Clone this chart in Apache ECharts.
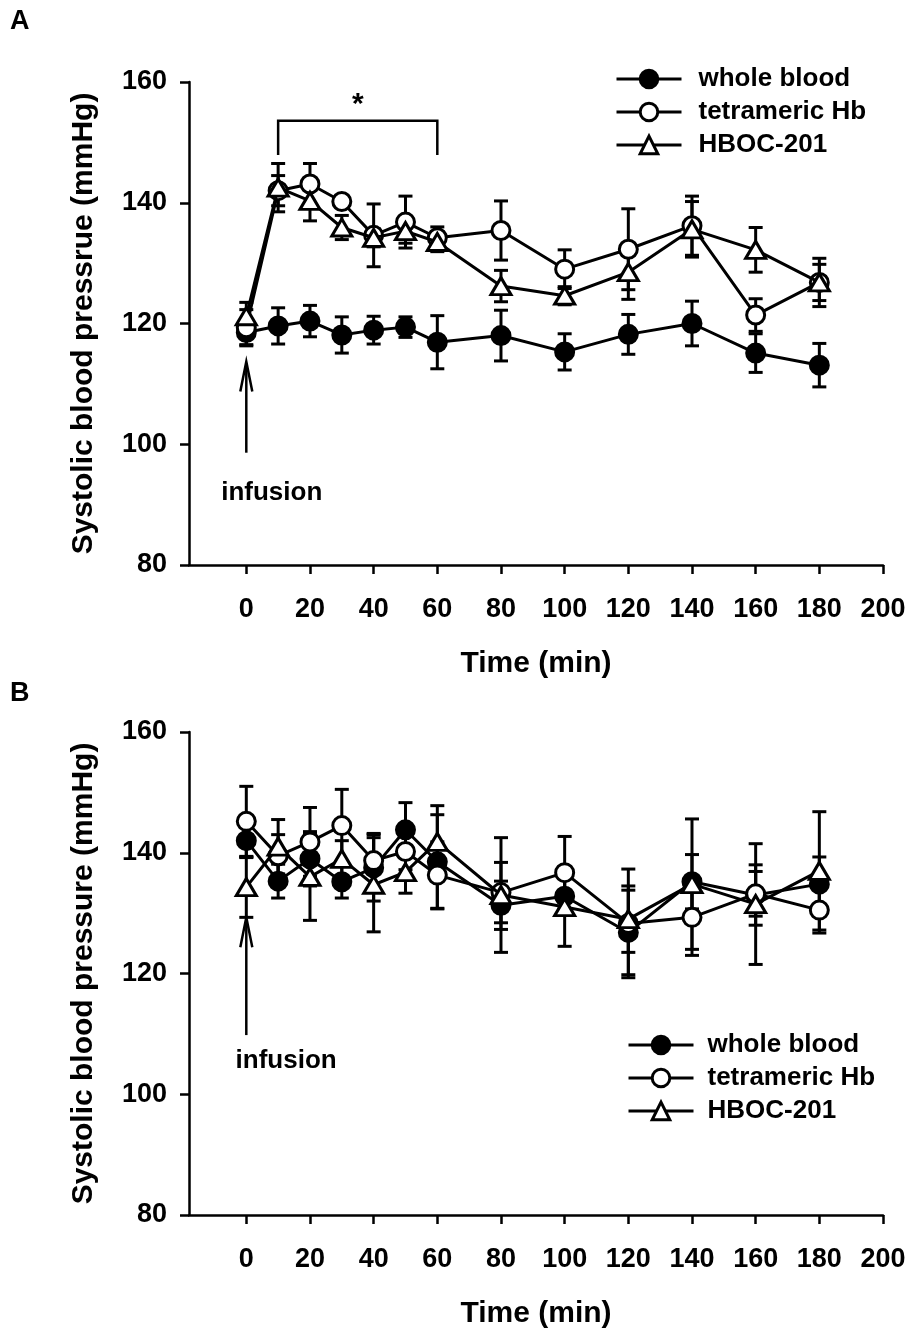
<!DOCTYPE html>
<html>
<head>
<meta charset="utf-8">
<script src="https://cdn.jsdelivr.net/npm/echarts@6/dist/echarts.min.js"></script>
<style>
html,body{margin:0;padding:0;background:#fff;}
#chart{width:915px;height:1330px;}
</style>
</head>
<body>
<div id="chart"></div>
<script>
// ---------------- DATA ----------------
const times = [0, 10, 20, 30, 40, 50, 60, 80, 100, 120, 140, 160, 180];
const xTicks = [0, 20, 40, 60, 80, 100, 120, 140, 160, 180, 200];
const yTicks = [80, 100, 120, 140, 160];
const seriesNames = ['whole blood', 'tetrameric Hb', 'HBOC-201'];

// Panel A
const aWhole      = [118.5, 119.6, 120.4, 118.1, 118.9, 119.4, 116.9, 118.0, 115.3, 118.2, 120.0, 115.1, 113.1];
const aWholeErr   = [2.0, 3.0, 2.6, 3.0, 2.3, 1.7, 4.4, 4.2, 3.0, 3.3, 3.7, 3.2, 3.6];
const aTetra      = [119.3, 142.0, 143.1, 140.2, 134.6, 136.8, 134.2, 135.4, 129.0, 132.3, 136.2, 121.4, 126.8];
const aTetraErr   = [3.0, 2.5, 3.4, 0.6, 5.2, 4.3, 1.8, 4.9, 3.2, 6.7, 4.9, 2.7, 3.0];
const aHboc       = [121.2, 142.5, 140.3, 135.9, 134.2, 135.3, 133.5, 126.2, 124.6, 128.5, 135.6, 132.2, 126.8];
const aHbocErr    = [2.3, 4.0, 3.3, 2.0, 1.5, 2.0, 1.6, 2.6, 1.5, 4.5, 4.6, 3.7, 4.0];

// Panel B
const bWhole      = [142.0, 135.3, 139.0, 135.2, 137.5, 143.8, 138.5, 131.3, 132.8, 126.8, 135.2, 133.0, 134.8];
const bWholeErr   = [2.8, 2.8, 4.5, 2.7, 5.5, 4.5, 7.8, 4.0, 3.0, 7.0, 4.5, 5.0, 4.5];
const bTetra      = [145.2, 139.5, 141.8, 144.5, 138.7, 140.2, 136.3, 133.4, 136.7, 128.3, 129.3, 133.2, 130.5];
const bTetraErr   = [5.8, 3.5, 5.7, 6.0, 4.5, 3.0, 5.5, 5.0, 6.0, 9.0, 6.3, 3.7, 3.8];
const bHboc       = [134.3, 141.0, 136.0, 139.0, 134.7, 136.8, 141.8, 133.0, 131.0, 129.0, 134.8, 131.5, 137.0];
const bHbocErr    = [5.0, 4.5, 7.2, 3.0, 7.8, 3.5, 6.0, 9.5, 6.5, 5.5, 10.8, 10.0, 9.8];

const yTitleA = 'Systolic blood pressrue (mmHg)';
const yTitleB = 'Systolic blood pressure (mmHg)';
const xTitle = 'Time (min)';

// ---------------- CHART ----------------
const FONT = '"Liberation Sans", Arial, Helvetica, sans-serif';
const chart = echarts.init(document.getElementById('chart'), null, {renderer: 'canvas'});

const styles = [
  {symbol: 'circle', size: 18, fill: '#000'},
  {symbol: 'circle', size: 18, fill: '#fff'},
  {symbol: 'triangle', size: [20, 17], fill: '#fff'}
];

function rows(vals, errs) {
  return times.map((t, i) => [t, vals[i], errs[i]]);
}

function errSeries(gi, vals, errs) {
  return {
    type: 'custom',
    xAxisIndex: gi, yAxisIndex: gi,
    data: rows(vals, errs),
    encode: {x: 0, y: 1},
    z: 1,
    silent: true,
    renderItem: function (params, api) {
      const x = api.value(0), y = api.value(1), e = api.value(2);
      const top = api.coord([x, y + e]);
      const bot = api.coord([x, y - e]);
      const hw = 7;
      const st = {stroke: '#000', lineWidth: 3};
      return {
        type: 'group',
        children: [
          {type: 'line', shape: {x1: top[0], y1: top[1], x2: bot[0], y2: bot[1]}, style: st},
          {type: 'line', shape: {x1: top[0] - hw, y1: top[1], x2: top[0] + hw, y2: top[1]}, style: st},
          {type: 'line', shape: {x1: bot[0] - hw, y1: bot[1], x2: bot[0] + hw, y2: bot[1]}, style: st}
        ]
      };
    }
  };
}

function lineSeries(gi, k, vals) {
  const s = styles[k];
  return {
    type: 'line',
    name: seriesNames[k],
    xAxisIndex: gi, yAxisIndex: gi,
    data: times.map((t, i) => [t, vals[i]]),
    symbol: s.symbol,
    symbolSize: s.size,
    showAllSymbol: true,
    z: 3 + k,
    lineStyle: {color: '#000', width: 3},
    itemStyle: {color: s.fill, borderColor: '#000', borderWidth: 3},
    emphasis: {disabled: true},
    animation: false
  };
}

function xAxis(gi) {
  return {
    type: 'value', gridIndex: gi, min: -18, max: 200,
    axisLine: {onZero: false, lineStyle: {color: '#000', width: 2.5}},
    axisTick: {show: true, length: 9, lineStyle: {color: '#000', width: 2.5}, customValues: xTicks},
    axisLabel: {color: '#000', fontSize: 27, fontWeight: 'bold', fontFamily: FONT, margin: 31, customValues: xTicks},
    splitLine: {show: false},
    name: xTitle, nameLocation: 'middle', nameGap: 84,
    nameTextStyle: {color: '#000', fontSize: 30, fontWeight: 'bold', fontFamily: FONT}
  };
}

function yAxis(gi, title) {
  return {
    type: 'value', gridIndex: gi, min: 80, max: 160, interval: 20,
    axisLine: {show: true, onZero: false, lineStyle: {color: '#000', width: 2.5}},
    axisTick: {show: true, length: 9, lineStyle: {color: '#000', width: 2.5}},
    axisLabel: {color: '#000', fontSize: 27, fontWeight: 'bold', fontFamily: FONT, margin: 22,
      customValues: yTicks},
    splitLine: {show: false},
    name: title, nameLocation: 'middle', nameGap: 90,
    nameTextStyle: {color: '#000', fontSize: 30, fontWeight: 'bold', fontFamily: FONT}
  };
}

function legend(left, top, pad) {
  return {
    left: left, top: top, orient: 'vertical', padding: 0,
    itemGap: 7, itemWidth: 65, itemHeight: 22,
    selectedMode: false,
    data: seriesNames,
    lineStyle: {width: 3, color: '#000'},
    itemStyle: {borderWidth: 3, borderColor: '#000'},
    textStyle: {color: '#000', fontSize: 26, fontWeight: 'bold', fontFamily: FONT, lineHeight: 26, padding: [0, 0, 0, pad]}
  };
}

const option = {
  animation: false,
  backgroundColor: '#fff',
  grid: [
    {left: 189, width: 694, top: 82, height: 483},
    {left: 189, width: 694, top: 732, height: 483}
  ],
  xAxis: [xAxis(0), xAxis(1)],
  yAxis: [yAxis(0, yTitleA), yAxis(1, yTitleB)],
  legend: [legend(615, 66, 12), legend(627, 1032, 9)],
  series: [
    errSeries(0, aWhole, aWholeErr), errSeries(0, aTetra, aTetraErr), errSeries(0, aHboc, aHbocErr),
    lineSeries(0, 0, aWhole), lineSeries(0, 1, aTetra), lineSeries(0, 2, aHboc),
    errSeries(1, bWhole, bWholeErr), errSeries(1, bTetra, bTetraErr), errSeries(1, bHboc, bHbocErr),
    lineSeries(1, 0, bWhole), lineSeries(1, 1, bTetra), lineSeries(1, 2, bHboc)
  ]
};
chart.setOption(option);

// ---------------- ANNOTATIONS (in data units) ----------------
const note = {
  bracket: {t0: 10, t1: 60, top: 153.6, foot: 147.9},
  star: {t: 35, v: 156.2},
  arrowA: {t: 0, tip: 113.7, tail: 98.6},
  arrowB: {t: 0, tip: 129.3, tail: 109.8},
  labelA: {t: 8, v: 92.0},
  labelB: {t: 12.5, v: 105.5}
};
function P(gi, t, v) { return chart.convertToPixel({gridIndex: gi}, [t, v]); }
function arrow(gi, a) {
  const tip = P(gi, a.t, a.tip), tail = P(gi, a.t, a.tail);
  const st = {stroke: '#000', lineWidth: 2.5, fill: null};
  return [
    {type: 'line', shape: {x1: tip[0], y1: tip[1] + 2, x2: tail[0], y2: tail[1]}, style: st},
    {type: 'polyline', shape: {points: [[tip[0] - 6, tip[1] + 30], [tip[0], tip[1]], [tip[0] + 6, tip[1] + 30]]}, style: st}
  ];
}
const b0 = P(0, note.bracket.t0, note.bracket.top), b1 = P(0, note.bracket.t1, note.bracket.top);
const f0 = P(0, note.bracket.t0, note.bracket.foot);
const star = P(0, note.star.t, note.star.v);
const la = P(0, note.labelA.t, note.labelA.v), lb = P(1, note.labelB.t, note.labelB.v);
const txt = (p, s, size) => ({type: 'text', x: p[0], y: p[1],
  style: {text: s, fill: '#000', font: 'bold ' + size + 'px ' + FONT, textAlign: 'center', textVerticalAlign: 'middle'}});
chart.setOption({
  graphic: [
    {type: 'polyline', shape: {points: [[b0[0], f0[1]], [b0[0], b0[1]], [b1[0], b1[1]], [b1[0], f0[1]]]},
      style: {stroke: '#000', lineWidth: 2.5, fill: null}},
    txt(star, '*', 30),
    ...arrow(0, note.arrowA),
    ...arrow(1, note.arrowB),
    txt(la, 'infusion', 26),
    txt(lb, 'infusion', 26),
    {type: 'text', left: 10, top: 8, style: {text: 'A', fill: '#000', font: 'bold 27px ' + FONT}},
    {type: 'text', left: 10, top: 680, style: {text: 'B', fill: '#000', font: 'bold 27px ' + FONT}}
  ]
});
</script>
</body>
</html>
